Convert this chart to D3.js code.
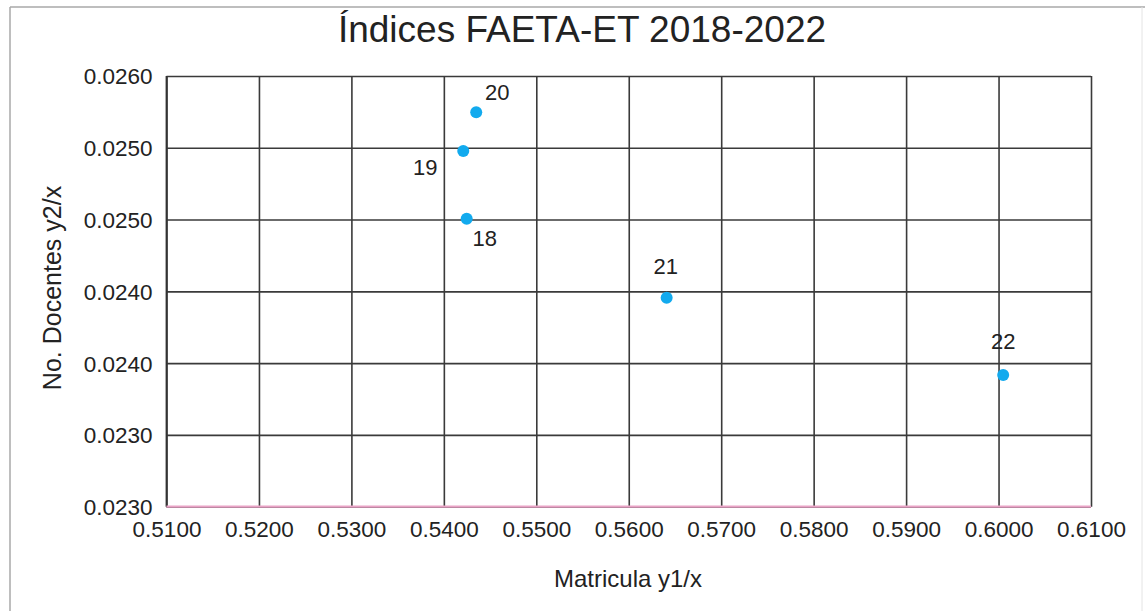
<!DOCTYPE html>
<html><head><meta charset="utf-8">
<script src="https://cdn.jsdelivr.net/npm/d3@7"></script>
<style>body{margin:0;background:#fff}svg{display:block}text{font-family:"Liberation Sans",Arial,sans-serif;fill:#222}</style>
</head><body><svg id="c" width="1145" height="611"></svg>
<script>
const labels = ["18","19","20","21","22"];
const matricula = [0.54247, 0.5421, 0.5435, 0.5641, 0.6005];
const docentes = [0.025006, 0.025478, 0.025747, 0.024456, 0.023918];
const xTicks = [0.51,0.52,0.53,0.54,0.55,0.56,0.57,0.58,0.59,0.60,0.61];
const yTicks = [0.0230,0.0235,0.0240,0.0245,0.0250,0.0255,0.0260];
const yTickLabels = ["0.0230","0.0230","0.0240","0.0240","0.0250","0.0250","0.0260"];
const labelOffsets = [[18,27],[-38,24],[21,-12],[-1,-24],[0,-26]];

const svg = d3.select("#c");
const x = d3.scaleLinear().domain([0.51,0.61]).range([166.5,1091]);
const y = d3.scaleLinear().domain([0.023,0.026]).range([506.7,76]);

// frame
svg.append("line").attr("x1",10).attr("x2",10).attr("y1",7).attr("y2",611).attr("stroke","#a8a8a8").attr("stroke-width",1.5);
svg.append("line").attr("x1",10).attr("x2",1145).attr("y1",7).attr("y2",7).attr("stroke","#a8a8a8").attr("stroke-width",1.5);
svg.append("line").attr("x1",1142).attr("x2",1142).attr("y1",7).attr("y2",611).attr("stroke","#e4e4e4").attr("stroke-width",1);

// grid
svg.append("g").attr("transform","translate(0,506.7)")
  .call(d3.axisBottom(x).tickValues(xTicks).tickSize(-(506.7-76)).tickFormat(d=>d3.format(".4f")(d)).tickPadding(14))
  .call(g=>{g.select(".domain").remove();
    g.selectAll(".tick line").attr("stroke","#3a3a3a").attr("stroke-width",1.6);
    g.selectAll(".tick text").attr("font-size",22.5).attr("fill","#333").style("font-family","Liberation Sans, Arial, sans-serif");});
svg.append("g").attr("transform","translate(166.5,0)")
  .call(d3.axisLeft(y).tickValues(yTicks).tickSize(-(1091-166.5)).tickFormat((d,i)=>yTickLabels[i]).tickPadding(14))
  .call(g=>{g.select(".domain").remove();
    g.selectAll(".tick line").attr("stroke","#3a3a3a").attr("stroke-width",1.6);
    g.selectAll(".tick text").attr("font-size",22.5).attr("fill","#333").attr("dy","0.35em").style("font-family","Liberation Sans, Arial, sans-serif");});
// left axis and pink bottom axis
svg.append("line").attr("x1",166.5).attr("x2",166.5).attr("y1",76).attr("y2",506.7).attr("stroke","#333").attr("stroke-width",1.8);
svg.append("line").attr("x1",166.5).attr("x2",1091).attr("y1",y(0.023)).attr("y2",y(0.023)).attr("stroke","#e9a3c6").attr("stroke-width",2.2);

// points
const data = labels.map((l,i)=>({l, x:matricula[i], y:docentes[i], o:labelOffsets[i]}));
svg.append("g").selectAll("circle").data(data).join("circle")
  .attr("cx",d=>x(d.x)).attr("cy",d=>y(d.y)).attr("r",6).attr("fill","#12aaee");
svg.append("g").selectAll("text").data(data).join("text")
  .attr("x",d=>x(d.x)+d.o[0]).attr("y",d=>y(d.y)+d.o[1]).attr("text-anchor","middle")
  .attr("font-size",22).attr("fill","#222").text(d=>d.l);

// titles
svg.append("text").attr("x",582).attr("y",42).attr("text-anchor","middle").attr("font-size",37).attr("fill","#222").text("Índices FAETA-ET 2018-2022");
svg.append("text").attr("x",628).attr("y",587).attr("text-anchor","middle").attr("font-size",24).attr("fill","#333").text("Matricula y1/x");
svg.append("text").attr("transform","translate(61,288) rotate(-90)").attr("text-anchor","middle").attr("font-size",25).attr("fill","#333").text("No. Docentes y2/x");
</script></body></html>
